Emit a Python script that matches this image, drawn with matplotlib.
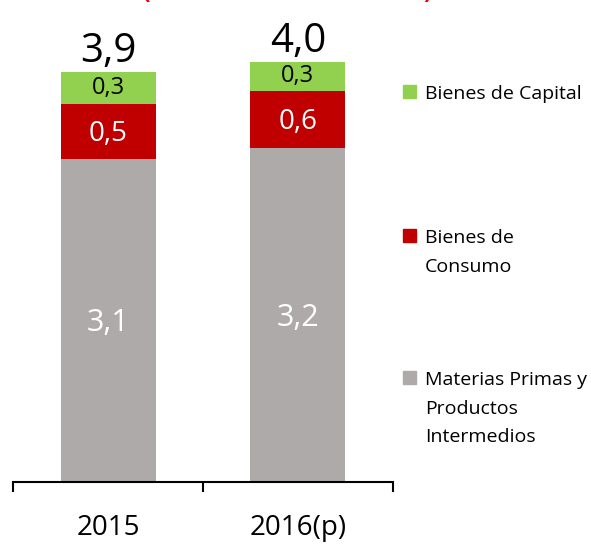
import matplotlib.pyplot as plt
from matplotlib.patches import Rectangle

plt.rcParams['font.family'] = ['Open Sans', 'DejaVu Sans']

# datos (miles de millones)
anios = ["2015", "2016(p)"]
materias = [3.1, 3.2]
consumo = [0.52, 0.55]
capital = [0.31, 0.28]
materias_lbl = ["3,1", "3,2"]
consumo_lbl = ["0,5", "0,6"]
capital_lbl = ["0,3", "0,3"]
total_lbl = ["3,9", "4,0"]

series = [["Materias Primas y", "Productos", "Intermedios"],
          ["Bienes de", "Consumo"],
          ["Bienes de Capital"]]
colores = ["#AEAAAA", "#C00000", "#92D050"]

W, H = 591, 544
fig = plt.figure(figsize=(W / 100, H / 100), dpi=100)
ax = fig.add_axes([13.3 / W, 1 - 481.7 / H, (392.7 - 13.3) / W, 481.7 / H])

x = list(range(len(anios)))
ax.bar(x, materias, width=0.5, color=colores[0])
base2 = materias
ax.bar(x, consumo, width=0.5, bottom=base2, color=colores[1])
base3 = [m + c for m, c in zip(materias, consumo)]
ax.bar(x, capital, width=0.5, bottom=base3, color=colores[2])

for i in x:
    ax.annotate(materias_lbl[i], (i, materias[i] / 2), xytext=(0, -3),
                textcoords='offset pixels', ha='center', va='center',
                color='white', fontsize=22)
    ax.annotate(consumo_lbl[i], (i, base2[i] + consumo[i] / 2), xytext=(0, -2),
                textcoords='offset pixels', ha='center', va='center',
                color='white', fontsize=20)
    ax.text(i, base3[i] + capital[i] / 2, capital_lbl[i], ha='center', va='center',
            color='black', fontsize=17)
    top = base3[i] + capital[i]
    ax.annotate(total_lbl[i], (i, top), xytext=(0, 0), textcoords='offset pixels',
                ha='center', va='bottom', fontsize=29)

ax.set_xlim(-0.5, 1.5)
ax.set_ylim(0, 481.7 / 104.2)
for s in ['top', 'right', 'left']:
    ax.spines[s].set_visible(False)
ax.spines['bottom'].set_linewidth(1.5)
ax.set_yticks([])
ax.set_xticks(x)
ax.set_xticklabels(anios, fontsize=20)
ax.tick_params(axis='x', which='major', length=0, pad=23)
ax.set_xticks([-0.5, 0.5, 1.5], minor=True)
ax.tick_params(axis='x', which='minor', length=7.5, width=1.5)

# leyenda manual, baseline de la primera linea en pixeles desde arriba
pos = [385, 243, 99]
for lineas, col, yb in zip(series, colores, pos):
    fig.add_artist(Rectangle((403 / W, 1 - (yb - 1) / H), 13 / W, 13 / H,
                             transform=fig.transFigure, color=col))
    for k, linea in enumerate(lineas):
        fig.text(425 / W, 1 - (yb + k * 28.5) / H, linea, ha='left', va='baseline',
                 fontsize=14, color='black')

# titulo cortado arriba
fig.text(287 / W, 1 + 1.5 / H, "(Miles de millones de US$)", ha='center', va='baseline',
         fontsize=16, fontweight='bold', color='#E00000')

fig.savefig("out.png", dpi=100)
